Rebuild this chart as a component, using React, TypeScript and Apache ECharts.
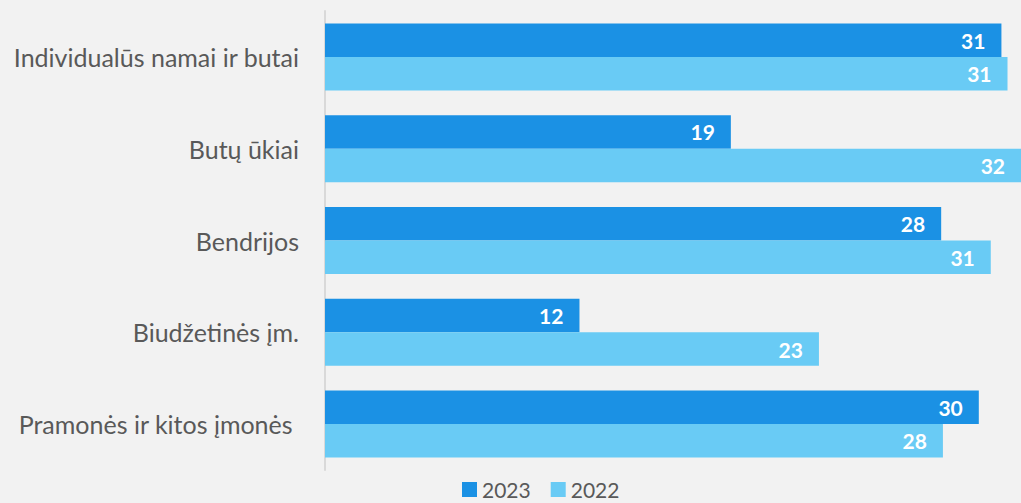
import React, { useEffect, useRef } from "react";
import * as echarts from "echarts";

const categories = [
  "Individualūs namai ir butai",
  "Butų ūkiai",
  "Bendrijos",
  "Biudžetinės įm.",
  "Pramonės ir kitos įmonės ",
];
const series2023 = [31.1, 18.66, 28.33, 11.7, 30.06];
const series2022 = [31.38, 32.0, 30.61, 22.71, 28.41];
const seriesNames = ["2023", "2022"];

export default function App() {
  const ref = useRef<HTMLDivElement>(null);
  useEffect(() => {
    document.body.style.margin = "0";
    const chart = echarts.init(ref.current!, null, { renderer: "svg" });
    const label = {
      show: true,
      position: "insideRight",
      distance: 16,
      color: "#ffffff",
      fontWeight: "bold",
      fontSize: 21,
      fontFamily: "Lato",
      formatter: (p: any) => String(Math.round(p.value)),
    };
    chart.setOption({
      animation: false,
      backgroundColor: "#f2f2f2",
      grid: { left: 325, right: -2, top: 11, bottom: 33, containLabel: false },
      legend: {
        data: seriesNames,
        left: 462,
        top: 479,
        padding: 0,
        itemWidth: 15,
        itemHeight: 15,
        itemGap: 20,
        icon: "rect",
        textStyle: {
          color: "#595959",
          fontSize: 21,
          lineHeight: 17,
          fontFamily: "Lato",
          padding: [0, 0, 0, 0],
        },
      },
      xAxis: {
        type: "value",
        min: 0,
        max: 32,
        show: false,
      },
      yAxis: {
        type: "category",
        data: categories,
        inverse: true,
        axisLine: { show: true, lineStyle: { color: "#d9d9d9", width: 2 } },
        axisTick: { show: false },
        axisLabel: {
          color: "#595959",
          fontSize: 25,
          fontFamily: "Lato",
          margin: 26,
        },
      },
      series: [
        {
          name: seriesNames[0],
          type: "bar",
          data: series2023,
          barWidth: 33.5,
          barGap: "0%",
          itemStyle: { color: "#1b91e4" },
          label,
        },
        {
          name: seriesNames[1],
          type: "bar",
          data: series2022,
          barWidth: 33.5,
          barGap: "0%",
          itemStyle: { color: "#69cbf5" },
          label,
        },
      ],
    });
    return () => chart.dispose();
  }, []);
  return <div ref={ref} style={{ width: 1021, height: 503 }} />;
}
